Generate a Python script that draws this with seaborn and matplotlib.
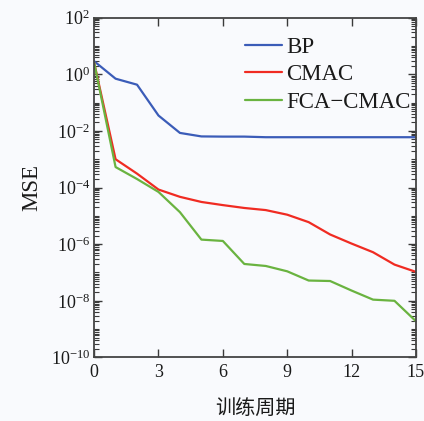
import numpy as np
import pandas as pd
import matplotlib
matplotlib.use("Agg")
import matplotlib.pyplot as plt
import matplotlib.ticker as mticker
import seaborn as sns

epochs = list(range(16))
bp = [2.9, 0.7, 0.43, 0.035, 0.0085, 0.0064, 0.0063, 0.0063, 0.006, 0.006,
      0.006, 0.006, 0.006, 0.006, 0.006, 0.006]
cmac = [2.6, 1.0e-3, 3.1e-4, 8.5e-5, 4.7e-5, 3.1e-5, 2.4e-5, 1.9e-5, 1.6e-5,
        1.1e-5, 6e-6, 2.2e-6, 1.05e-6, 5.2e-7, 1.9e-7, 1.05e-7]
fca = [2.6, 5.3e-4, 2.0e-4, 7.0e-5, 1.35e-5, 1.45e-6, 1.3e-6, 2.0e-7, 1.7e-7,
       1.1e-7, 5.2e-8, 5.0e-8, 2.3e-8, 1.1e-8, 1.0e-8, 1.9e-9]
series_names = ["BP", "CMAC", "FCA\u2212CMAC"]
colors = ["#3b5cb8", "#f02b22", "#6ab340"]

df = pd.DataFrame({
    "epoch": epochs * 3,
    "mse": bp + cmac + fca,
    "model": [series_names[0]] * 16 + [series_names[1]] * 16 + [series_names[2]] * 16,
})

sns.set_theme(style="ticks")
plt.rcParams["font.family"] = ["Liberation Serif", "Noto Sans CJK SC"]
plt.rcParams["mathtext.fontset"] = "stix"
plt.rcParams["ytick.minor.visible"] = True
bg = "#f9fafd"

fig = plt.figure(figsize=(4.24, 4.21), dpi=100, facecolor=bg)
ax = fig.add_axes([0.222, 0.151, 0.759, 0.807])
ax.set_facecolor(bg)

sns.lineplot(data=df, x="epoch", y="mse", hue="model", palette=colors,
             hue_order=series_names, linewidth=1.6, ax=ax)
ax.set_yscale("log")
ax.set_xlim(0, 15)
ax.set_ylim(1e-10, 1e2)
ax.set_xticks([0, 3, 6, 9, 12, 15])
ax.yaxis.set_major_locator(mticker.FixedLocator([10.0 ** k for k in range(-10, 3, 2)]))
ax.yaxis.set_major_formatter(mticker.LogFormatterSciNotation(base=10))
minor_pos = [m * 10.0 ** k for k in range(-10, 2) for m in range(1, 10)
             if not (m == 1 and k % 2 == 0)]
ax.yaxis.set_minor_locator(mticker.FixedLocator(minor_pos))
ax.yaxis.set_minor_formatter(mticker.NullFormatter())

ax.tick_params(axis="both", which="major", direction="in", length=5.5, width=1,
               labelsize=13, colors="#3a3a3a", labelcolor="#1a1a1a",
               top=True, right=True, pad=3)
ax.tick_params(axis="x", which="major", pad=5)
ax.tick_params(axis="y", which="minor", direction="in", length=3.5, width=0.8,
               colors="#3a3a3a", right=True, left=True)
for s in ax.spines.values():
    s.set_color("#444444")
    s.set_linewidth(1.3)

ax.set_xlabel("训练周期", fontsize=14.5, family=["Noto Sans CJK SC"], labelpad=12, color="#1a1a1a")
ax.set_ylabel("MSE", fontsize=16.5, labelpad=6, color="#1a1a1a")

leg = ax.legend(loc="upper right", frameon=False, fontsize=16.5, handlelength=1.6,
                handletextpad=0.22, labelspacing=0.27, borderaxespad=0.0,
                bbox_to_anchor=(1.013, 0.97))
for t in leg.get_texts():
    t.set_color("#1a1a1a")

fig.savefig("out.png", dpi=100, facecolor=bg)
